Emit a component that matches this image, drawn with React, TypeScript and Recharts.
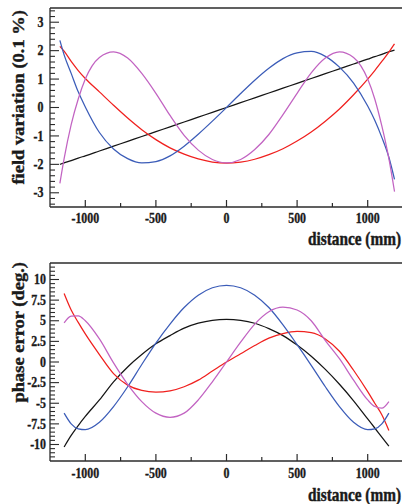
import React from 'react';
import { LineChart, Line, XAxis, YAxis, ReferenceLine } from 'recharts';

// ---------- data: top panel (field variation, 0.1 %) ----------
const topDistance = [-1180, -1150, -1100, -1050, -1000, -900, -800, -700, -600, -500, -400, -300, -200, -100, 0, 100, 200, 300, 400, 500, 600, 700, 800, 900, 1000, 1050, 1100, 1150, 1190];
const topBlack = [-2.0, -1.95, -1.87, -1.78, -1.7, -1.53, -1.36, -1.19, -1.02, -0.85, -0.68, -0.51, -0.34, -0.17, 0, 0.17, 0.34, 0.51, 0.68, 0.85, 1.02, 1.19, 1.36, 1.53, 1.7, 1.79, 1.87, 1.96, 2.02];
const topRed = [2.15, 1.98, 1.62, 1.3, 1.02, 0.55, 0.08, -0.37, -0.78, -1.13, -1.42, -1.64, -1.81, -1.92, -1.96, -1.92, -1.82, -1.66, -1.45, -1.18, -0.86, -0.48, -0.05, 0.45, 1.0, 1.3, 1.62, 1.95, 2.24];
const topBlue = [2.36, 1.85, 1.2, 0.55, 0.02, -0.88, -1.46, -1.8, -1.95, -1.9, -1.7, -1.36, -0.94, -0.48, 0.0, 0.49, 0.96, 1.38, 1.72, 1.92, 1.97, 1.8, 1.42, 0.86, 0.05, -0.45, -1.05, -1.75, -2.53];
const topMagenta = [-2.67, -1.8, -0.6, 0.3, 1.0, 1.76, 1.96, 1.74, 1.2, 0.5, -0.28, -0.98, -1.5, -1.83, -1.95, -1.83, -1.48, -0.95, -0.25, 0.5, 1.22, 1.74, 1.96, 1.76, 1.0, 0.3, -0.65, -1.8, -2.96];

// ---------- data: bottom panel (phase error, deg.) ----------
const botDistance = [-1150, -1100, -1050, -1000, -900, -800, -700, -600, -500, -400, -300, -200, -100, 0, 100, 200, 300, 400, 500, 600, 700, 800, 900, 1000, 1050, 1100, 1150];
const botBlack = [-10.3, -8.9, -7.7, -6.6, -4.6, -2.4, -0.6, 0.9, 2.2, 3.2, 4.1, 4.7, 5.05, 5.16, 5.05, 4.7, 4.05, 3.2, 2.05, 0.7, -0.9, -2.7, -4.7, -6.9, -8.0, -9.1, -10.2];
const botBlue = [-6.2, -7.5, -8.1, -8.2, -7.3, -5.4, -3.0, -0.3, 2.3, 4.6, 6.6, 8.1, 9.0, 9.3, 9.0, 8.1, 6.6, 4.5, 2.1, -0.4, -3.0, -5.4, -7.3, -8.2, -8.1, -7.5, -6.2];
const botRed = [8.3, 6.3, 4.8, 3.4, 0.9, -1.4, -2.8, -3.45, -3.65, -3.5, -3.0, -2.2, -1.1, 0.0, 1.0, 2.0, 2.9, 3.45, 3.7, 3.55, 2.8, 1.3, -1.0, -3.6, -5.0, -6.4, -8.3];
const botMagenta = [4.75, 5.55, 5.6, 5.0, 2.8, -0.1, -2.7, -4.8, -6.2, -6.7, -6.2, -4.6, -2.4, 0.0, 2.4, 4.6, 6.1, 6.65, 6.3, 5.0, 2.6, 0.4, -2.2, -4.6, -5.4, -5.6, -4.8];

// ---------- ticks ----------
const xMajorTicks = [-1000, -500, 0, 500, 1000];
const xMinorTicks = [-750, -250, 250, 750];
const topYMajorTicks = [-3, -2, -1, 0, 1, 2, 3];
const botYMajorTicks = [-10, -7.5, -5, -2.5, 0, 2.5, 5, 7.5, 10];

const topYTicks: number[] = [];
for (let k = -17; k <= 17; k++) topYTicks.push(Math.round(k * 20) / 100);
const botYTicks: number[] = [];
for (let k = -23; k <= 23; k++) botYTicks.push(k * 0.5);
const xTicks = [...xMajorTicks, ...xMinorTicks].sort((a, b) => a - b);

const topData = topDistance.map((x, i) => ({ x, black: topBlack[i], red: topRed[i], blue: topBlue[i], magenta: topMagenta[i] }));
const botData = botDistance.map((x, i) => ({ x, black: botBlack[i], red: botRed[i], blue: botBlue[i], magenta: botMagenta[i] }));

const FONT = '"Liberation Serif", "Times New Roman", serif';
const AXIS = '#2b2b2b';
const INK = '#1a1a1a';
const C_BLACK = '#151515';
const C_RED = '#f0201e';
const C_BLUE = '#3b5cb8';
const C_MAG = '#c263c2';

const isIn = (arr: number[], v: number) => arr.some((m) => Math.abs(m - v) < 1e-6);

const makeXTick = (labelDy: number) => (props: any) => {
  const { x, y, payload } = props;
  const v = payload.value;
  const major = isIn(xMajorTicks, v);
  return (
    <g>
      <line x1={x} x2={x} y1={y} y2={y - (major ? 7 : 4)} stroke={AXIS} strokeWidth={1.2} />
      {major && (
        <text transform={`translate(${x},${y + labelDy}) scale(0.85,1)`} textAnchor="middle" fontFamily={FONT} fontWeight="bold" fontSize={14} fill={INK} stroke={INK} strokeWidth={0.35}>
          {String(v)}
        </text>
      )}
    </g>
  );
};

const makeYTick = (majors: number[], labelX: number) => (props: any) => {
  const { x, y, payload } = props;
  const v = payload.value;
  const major = isIn(majors, v);
  return (
    <g>
      <line x1={x} x2={x + (major ? 9 : 5)} y1={y} y2={y} stroke={AXIS} strokeWidth={1.1} />
      {major && (
        <text transform={`translate(${labelX},${y + 4.7}) scale(0.85,1)`} textAnchor="end" fontFamily={FONT} fontWeight="bold" fontSize={14} fill={INK} stroke={INK} strokeWidth={0.35}>
          {String(v)}
        </text>
      )}
    </g>
  );
};

const lines = (
  [
    ['black', C_BLACK],
    ['red', C_RED],
    ['blue', C_BLUE],
    ['magenta', C_MAG],
  ] as [string, string][]
).map(([k, c]) => (
  <Line key={k} dataKey={k} type="monotone" stroke={c} strokeWidth={1.25} dot={false} activeDot={false} isAnimationActive={false} />
));

export default function App() {
  const axisLine = { stroke: AXIS, strokeWidth: 1.3 };
  const titleProps = { fontFamily: FONT, fontWeight: 'bold' as const, fill: INK, stroke: INK, strokeWidth: 0.45 };
  return (
    <div style={{ position: 'absolute', left: 0, top: 0, width: 402, height: 504, background: '#fff', overflow: 'hidden' }}>
      <div style={{ position: 'absolute', left: 0, top: 0 }}>
        <LineChart width={402} height={250} data={topData} margin={{ top: 8, right: -1, bottom: 0, left: 0 }}>
          <XAxis type="number" dataKey="x" domain={[-1250, 1250]} ticks={xTicks} interval={0} tickLine={false} tickSize={0} tickMargin={0} tick={makeXTick(16)} axisLine={axisLine} height={43} allowDataOverflow />
          <YAxis type="number" domain={[-3.5, 3.5]} ticks={topYTicks} interval={0} tickLine={false} tickSize={0} tickMargin={0} tick={makeYTick(topYMajorTicks, 43.5)} axisLine={axisLine} width={50} allowDataOverflow />
          <ReferenceLine y={3.5} stroke={AXIS} strokeWidth={1.3} />
          {lines}
        </LineChart>
      </div>
      <div style={{ position: 'absolute', left: 0, top: 250 }}>
        <LineChart width={402} height={254} data={botData} margin={{ top: 13, right: -1, bottom: 0, left: 0 }}>
          <XAxis type="number" dataKey="x" domain={[-1250, 1250]} ticks={xTicks} interval={0} tickLine={false} tickSize={0} tickMargin={0} tick={makeXTick(16.5)} axisLine={axisLine} height={43} allowDataOverflow />
          <YAxis type="number" domain={[-12, 12]} ticks={botYTicks} interval={0} tickLine={false} tickSize={0} tickMargin={0} tick={makeYTick(botYMajorTicks, 46)} axisLine={axisLine} width={50} allowDataOverflow />
          <ReferenceLine y={12} stroke={AXIS} strokeWidth={1.3} />
          {lines}
        </LineChart>
      </div>
      <svg width={402} height={504} style={{ position: 'absolute', left: 0, top: 0, pointerEvents: 'none' }}>
        <text transform="translate(23.5,10) scale(0.85,1) rotate(-90)" textAnchor="end" fontSize={18.5} {...titleProps}>
          field variation (0.1 %)
        </text>
        <text transform="translate(23.5,262) scale(0.85,1) rotate(-90)" textAnchor="end" fontSize={18.5} {...titleProps}>
          phase error (deg.)
        </text>
        <text transform="translate(401,244.5) scale(0.85,1)" textAnchor="end" fontSize={18} {...titleProps}>
          distance (mm)
        </text>
        <text transform="translate(401,501) scale(0.85,1)" textAnchor="end" fontSize={18} {...titleProps}>
          distance (mm)
        </text>
      </svg>
    </div>
  );
}
